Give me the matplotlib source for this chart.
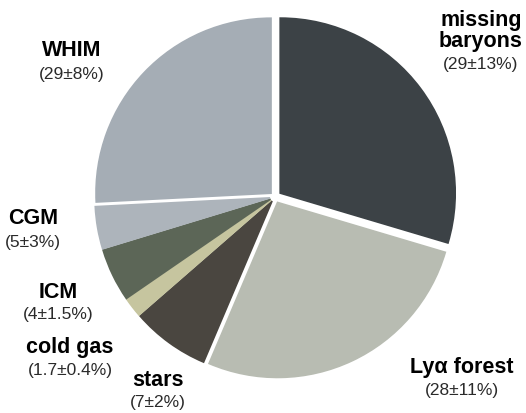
import matplotlib.pyplot as plt

# baryon budget, clockwise from 12 o'clock
labels = ["missing\nbaryons", "Lyα forest", "stars", "cold gas", "ICM", "CGM", "WHIM"]
errors = ["(29±13%)", "(28±11%)", "(7±2%)", "(1.7±0.4%)", "(4±1.5%)", "(5±3%)", "(29±8%)"]
# wedge sizes as drawn in the figure (percent of the circle)
shares = [29.6, 26.8, 7.2, 1.8, 4.9, 3.9, 25.8]
colors = ["#3c4246", "#b8bcb2", "#4a4640", "#c6c59f", "#5c6657", "#adb4bb", "#a5adb5"]
explode = [6.5, 6, 5, 5, 5, 5, 5.5]  # pixels

# label anchor positions in pixels (x from left, y from top)
label_xy = [(481, 31), (462, 367), (158, 380), (70, 347), (58, 292), (33, 218), (72, 50)]
err_dy = [34, 23, 22, 23, 23, 24, 25]

W, H = 526, 413
fig = plt.figure(figsize=(W / 100, H / 100), dpi=100, facecolor="w")
ax = fig.add_axes([0, 0, 1, 1])

wedges, _ = ax.pie(shares, colors=colors, explode=explode, startangle=90, counterclock=False,
                   radius=175, center=(275, H - 197), frame=True)
# close the hairline gaps between the small wedges
for w, c in zip(wedges, colors):
    w.set_edgecolor(c)
    w.set_linewidth(1.2)

ax.set_xlim(0, W)
ax.set_ylim(0, H)
ax.set_aspect("equal")
ax.axis("off")

font = "Liberation Sans"
for lab, err, (x, y), dy in zip(labels, errors, label_xy, err_dy):
    ax.text(x, H - y, lab, ha="center", va="center", fontsize=15.5, fontweight="bold",
            family=font, linespacing=0.95)
    ax.text(x, H - y - dy, err, ha="center", va="center", fontsize=12.5, family=font,
            color="#2a2a2a")

fig.savefig("out.png", dpi=100, facecolor="w")
